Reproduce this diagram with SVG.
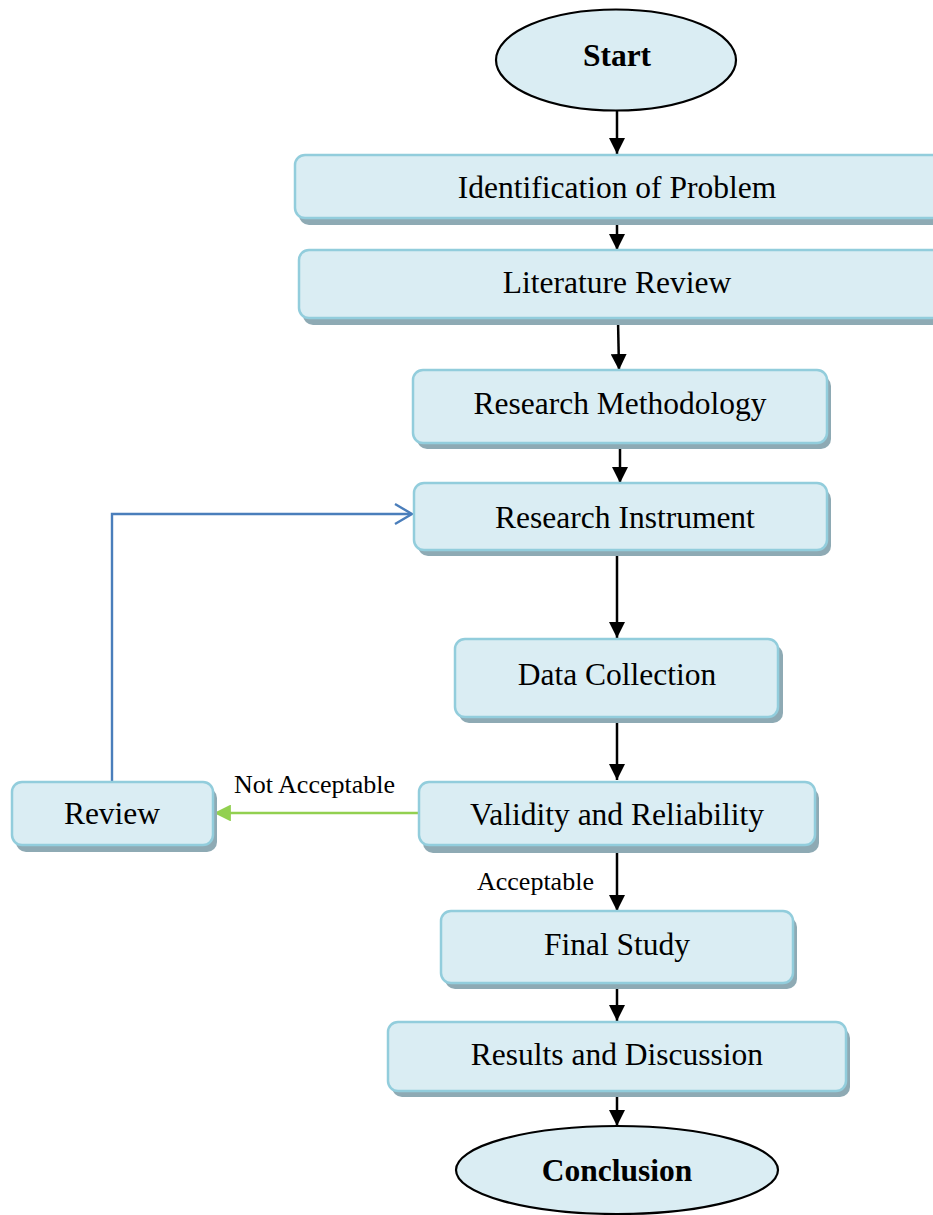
<svg xmlns="http://www.w3.org/2000/svg" width="933" height="1215" viewBox="0 0 933 1215">
<defs>
<style>
.box{fill:#daedf3;stroke:#92cddc;stroke-width:2.5}
.sh{fill:#8eaab4}
.term{fill:#daedf3;stroke:#000;stroke-width:2.2}
.t{font-family:"Liberation Serif","Times New Roman",serif;font-size:31.5px;fill:#000;text-anchor:middle}
.b{font-weight:bold}
.lbl{font-family:"Liberation Serif","Times New Roman",serif;font-size:26px;fill:#000}
.k{stroke:#000;stroke-width:2.5;fill:none}
</style>
<marker id="ah" viewBox="0 0 10 10" refX="10" refY="5" markerWidth="6.4" markerHeight="6.4" markerUnits="strokeWidth" orient="auto">
<path d="M0,0 L10,5 L0,10 z" fill="#000"/>
</marker>
<marker id="gh" viewBox="0 0 10 10" refX="10" refY="5" markerWidth="6.5" markerHeight="6.5" markerUnits="strokeWidth" orient="auto">
<path d="M0,0 L10,5 L0,10 z" fill="#92d050"/>
</marker>
</defs>
<rect width="933" height="1215" fill="#fff"/>

<g id="connectors">
<line class="k" x1="617" y1="111" x2="617" y2="154" marker-end="url(#ah)"/>
<line class="k" x1="617" y1="220" x2="617" y2="250" marker-end="url(#ah)"/>
<line class="k" x1="618" y1="320" x2="619" y2="370" marker-end="url(#ah)"/>
<line class="k" x1="620" y1="445" x2="620" y2="483" marker-end="url(#ah)"/>
<line class="k" x1="617" y1="553" x2="617" y2="638" marker-end="url(#ah)"/>
<line class="k" x1="617" y1="721" x2="617" y2="780" marker-end="url(#ah)"/>
<line class="k" x1="617" y1="850" x2="617" y2="911" marker-end="url(#ah)"/>
<line class="k" x1="617" y1="987" x2="617" y2="1021" marker-end="url(#ah)"/>
<line class="k" x1="617" y1="1095" x2="617" y2="1126" marker-end="url(#ah)"/>
<line x1="419" y1="813" x2="214" y2="813" stroke="#92d050" stroke-width="2.6" marker-end="url(#gh)"/>
<polyline points="112,782 112,514 411,514" fill="none" stroke="#4a7ebb" stroke-width="2.4"/>
<polyline points="395,504 412,514 395,524" fill="none" stroke="#4a7ebb" stroke-width="2.4"/>
<text class="lbl" x="234" y="793">Not Acceptable</text>
<text class="lbl" x="477" y="890">Acceptable</text>
</g>

<g id="start">
<ellipse class="term" cx="616" cy="60" rx="120" ry="50.5"/>
<text class="t b" x="617" y="66">Start</text>
</g>

<g id="identification">
<rect class="sh" x="299" y="161" width="650" height="64" rx="10"/>
<rect class="box" x="295" y="155" width="650" height="63" rx="10"/>
<text class="t" x="617" y="198">Identification of Problem</text>
</g>

<g id="literature">
<rect class="sh" x="303" y="256" width="650" height="69" rx="10"/>
<rect class="box" x="299" y="250" width="650" height="68" rx="10"/>
<text class="t" x="617" y="293">Literature Review</text>
</g>

<g id="methodology">
<rect class="sh" x="417" y="376" width="414" height="73" rx="10"/>
<rect class="box" x="413" y="370" width="414" height="73" rx="10"/>
<text class="t" x="620" y="414">Research Methodology</text>
</g>

<g id="instrument">
<rect class="sh" x="418" y="489" width="413" height="67" rx="10"/>
<rect class="box" x="414" y="483" width="413" height="67" rx="10"/>
<text class="t" x="625" y="528">Research Instrument</text>
</g>

<g id="datacollection">
<rect class="sh" x="459" y="645" width="324" height="78" rx="10"/>
<rect class="box" x="455" y="639" width="323" height="78" rx="10"/>
<text class="t" x="617" y="685">Data Collection</text>
</g>

<g id="validity">
<rect class="sh" x="423" y="788" width="396" height="65" rx="10"/>
<rect class="box" x="419" y="782" width="396" height="63" rx="10"/>
<text class="t" x="617" y="825">Validity and Reliability</text>
</g>

<g id="review">
<rect class="sh" x="16" y="788" width="201" height="64" rx="10"/>
<rect class="box" x="12" y="782" width="201" height="63" rx="10"/>
<text class="t" x="112" y="824">Review</text>
</g>

<g id="finalstudy">
<rect class="sh" x="445" y="917" width="352" height="72" rx="10"/>
<rect class="box" x="441" y="911" width="352" height="72" rx="10"/>
<text class="t" x="617" y="955">Final Study</text>
</g>

<g id="results">
<rect class="sh" x="392" y="1028" width="458" height="69" rx="10"/>
<rect class="box" x="388" y="1022" width="458" height="69" rx="10"/>
<text class="t" x="617" y="1065">Results and Discussion</text>
</g>

<g id="conclusion">
<ellipse class="term" cx="617" cy="1170" rx="161" ry="44"/>
<text class="t b" x="617" y="1181">Conclusion</text>
</g>
</svg>
